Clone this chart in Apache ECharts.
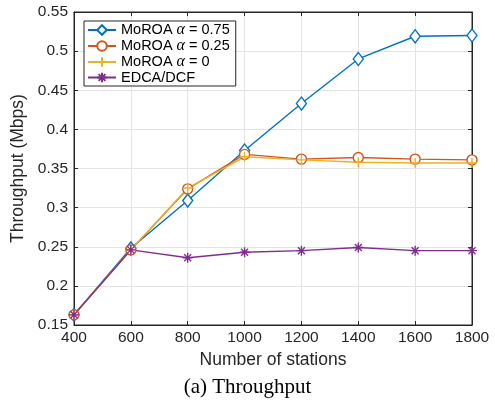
<!DOCTYPE html>
<html>
<head>
<meta charset="utf-8">
<script src="https://cdn.jsdelivr.net/npm/echarts@6/dist/echarts.min.js"></script>
<style>
  html, body { margin: 0; padding: 0; background: #fff; }
  #main { width: 495px; height: 403px; }
</style>
</head>
<body>
<div id="main"></div>
<script>
// x values (number of stations)
const stations = [400, 600, 800, 1000, 1200, 1400, 1600, 1800]
const moroa075 = [0.163, 0.248, 0.309, 0.373, 0.433, 0.490, 0.519, 0.520]
const moroa025 = [0.163, 0.246, 0.324, 0.368, 0.362, 0.364, 0.362, 0.361]
const moroa0 = [0.163, 0.246, 0.325, 0.365, 0.361, 0.358, 0.357, 0.357]
const edca = [0.163, 0.246, 0.236, 0.243, 0.245, 0.249, 0.245, 0.245]
const seriesNames = ['MoROA α = 0.75', 'MoROA α = 0.25', 'MoROA α = 0', 'EDCA/DCF']

const font = 'Liberation Sans, Arial, Helvetica, sans-serif'
const axisColor = '#262626'
const plusPath = 'path://M5,0 L5,10 M0,5 L10,5'
const starPath = 'path://M5,0 L5,10 M0,5 L10,5 M1.5,1.5 L8.5,8.5 M1.5,8.5 L8.5,1.5'

const pair = (ys) => stations.map((x, i) => [x, ys[i]])

const mkSeries = (name, ys, color, symbol, size, fill) => ({
  name,
  type: 'line',
  data: pair(ys),
  symbol,
  symbolSize: size,
  lineStyle: { color, width: 1.4 },
  itemStyle: { color: fill, borderColor: color, borderWidth: 1.4 },
  emphasis: { disabled: true }
})

const chart = echarts.init(document.getElementById('main'))

const baseX = {
  type: 'value',
  min: 400,
  max: 1800,
  interval: 200
}
const baseY = {
  type: 'value',
  min: 0.15,
  max: 0.55,
  interval: 0.05
}
const tickStyle = { show: true, inside: true, length: 4, lineStyle: { color: axisColor } }

const option = {
  animation: false,
  title: {
    text: '(a) Throughput',
    left: 'center',
    bottom: 5,
    padding: 0,
    textStyle: { fontFamily: 'Liberation Serif, Times New Roman, serif', fontSize: 21, fontWeight: 'normal', color: '#000' }
  },
  legend: {
    orient: 'vertical',
    left: 84,
    top: 21,
    padding: [1, 6, 1, 3],
    itemGap: 0,
    itemWidth: 28,
    itemHeight: 12,
    backgroundColor: '#fff',
    borderColor: '#262626',
    borderWidth: 1,
    borderRadius: 0,
    data: seriesNames,
    formatter: (name) => {
      if (name.indexOf('α') < 0) return name
      const parts = name.split('α')
      return parts[0] + '{a|α}' + parts[1]
    },
    textStyle: {
      fontFamily: font,
      fontSize: 14.5,
      lineHeight: 15,
      color: '#000',
      rich: {
        a: { fontFamily: 'Liberation Serif, serif', fontStyle: 'italic', fontSize: 16, lineHeight: 15, color: '#000' }
      }
    }
  },
  grid: {
    left: 74,
    right: 23,
    top: 12,
    bottom: 78,
    show: true,
    borderColor: axisColor,
    borderWidth: 1
  },
  xAxis: [{
    ...baseX,
    name: 'Number of stations',
    nameLocation: 'middle',
    nameGap: 25,
    nameTextStyle: { fontFamily: font, fontSize: 17.5, color: axisColor },
    axisLine: { show: true, lineStyle: { color: axisColor } },
    axisTick: tickStyle,
    axisLabel: { fontFamily: font, fontSize: 15.5, color: axisColor, margin: 5, formatter: (v) => String(v) },
    splitLine: { show: true, lineStyle: { color: '#e3e3e3' } }
  }, {
    ...baseX,
    position: 'top',
    axisLine: { show: true, lineStyle: { color: axisColor } },
    axisTick: tickStyle,
    axisLabel: { show: false },
    splitLine: { show: false }
  }],
  yAxis: [{
    ...baseY,
    name: 'Throughput (Mbps)',
    nameLocation: 'middle',
    nameGap: 41,
    nameTextStyle: { fontFamily: font, fontSize: 17.5, color: axisColor },
    axisLine: { show: true, lineStyle: { color: axisColor } },
    axisTick: tickStyle,
    axisLabel: { fontFamily: font, fontSize: 15.5, color: axisColor, margin: 6 },
    splitLine: { show: true, lineStyle: { color: '#e3e3e3' } }
  }, {
    ...baseY,
    position: 'right',
    axisLine: { show: true, lineStyle: { color: axisColor } },
    axisTick: tickStyle,
    axisLabel: { show: false },
    splitLine: { show: false }
  }],
  series: [
    mkSeries(seriesNames[0], moroa075, '#0072BD', 'diamond', [10, 13], '#fff'),
    mkSeries(seriesNames[1], moroa025, '#D95319', 'circle', 10, '#fff'),
    mkSeries(seriesNames[2], moroa0, '#EDB120', plusPath, 10, 'none'),
    mkSeries(seriesNames[3], edca, '#7E2F8E', starPath, 10, 'none')
  ]
}

chart.setOption(option)
</script>
</body>
</html>
